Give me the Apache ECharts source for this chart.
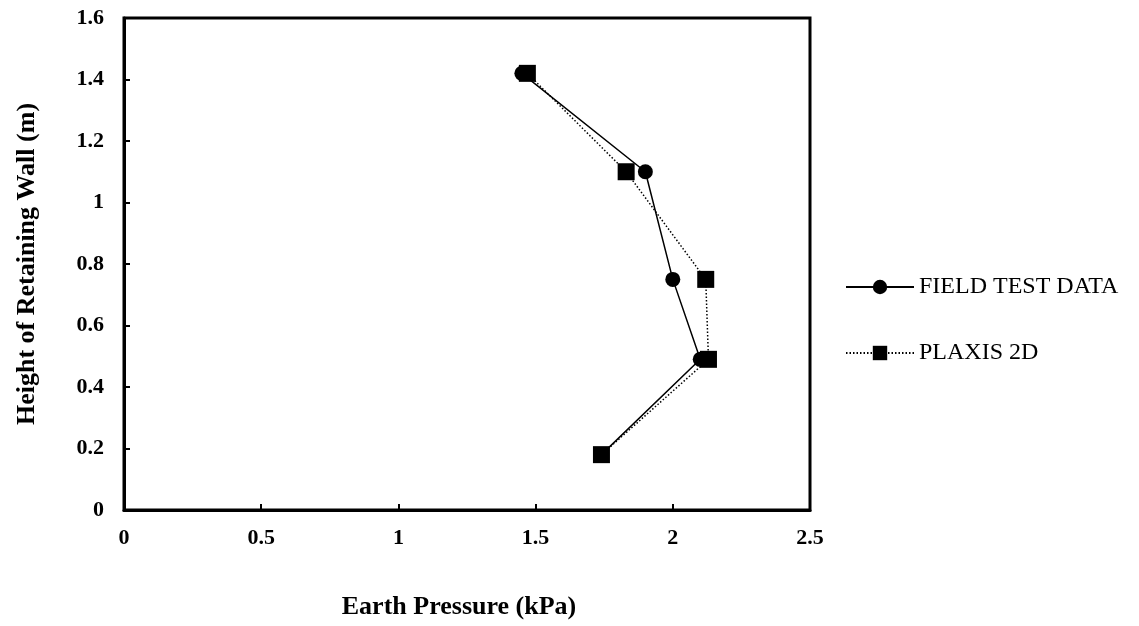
<!DOCTYPE html>
<html lang="en">

<head>
    <meta charset="UTF-8">
    <title>Earth Pressure</title>
    <script src="https://cdnjs.cloudflare.com/ajax/libs/echarts/6.0.0/echarts.min.js"></script>
    <style>
        body { margin: 0; background: #fff; }
        #main { width: 1139px; height: 626px; }
    </style>
</head>

<body>
    <div id="main"></div>

    <script>
        // height of wall (m)
        const heights = [1.42, 1.10, 0.75, 0.49, 0.18];
        // earth pressure (kPa)
        const fieldPressure = [1.45, 1.90, 2.00, 2.10, 1.74];
        const plaxisPressure = [1.47, 1.83, 2.12, 2.13, 1.74];

        const chart = echarts.init(document.getElementById('main'));
        const serif = "'Liberation Serif', 'DejaVu Serif', serif";

        function pairs(xs, ys) {
            return xs.map((x, i) => [x, ys[i]]);
        }

        const option = {
            animation: false,
            textStyle: { fontFamily: serif, color: '#000' },
            grid: { left: 124, top: 18, right: 329, bottom: 116, show: true, borderColor: '#000', borderWidth: 3 },
            legend: {
                orient: 'vertical',
                left: 840,
                top: 270,
                itemWidth: 68,
                itemHeight: 18,
                itemGap: 42,
                textStyle: { fontFamily: serif, fontSize: 24, color: '#000' },
                data: ['FIELD TEST DATA', 'PLAXIS 2D']
            },
            xAxis: {
                type: 'value',
                min: 0, max: 2.5, interval: 0.5,
                name: 'Earth Pressure (kPa)',
                nameLocation: 'middle',
                nameGap: 84,
                nameTextStyle: { fontFamily: serif, fontSize: 26, fontWeight: 'bold', color: '#000', padding: [0, 16, 0, 0] },
                axisLine: { lineStyle: { color: '#000', width: 3 } },
                axisTick: { inside: true, length: 6, lineStyle: { color: '#000', width: 2 } },
                axisLabel: {
                    margin: 17, fontFamily: serif, fontSize: 22, fontWeight: 'bold', color: '#000',
                    formatter: v => String(v)
                },
                splitLine: { show: false }
            },
            yAxis: {
                type: 'value',
                min: 0, max: 1.6, interval: 0.2,
                name: 'Height of Retaining Wall (m)',
                nameLocation: 'middle',
                nameGap: 84,
                nameTextStyle: { fontFamily: serif, fontSize: 26, fontWeight: 'bold', color: '#000' },
                axisLine: { lineStyle: { color: '#000', width: 3 } },
                axisTick: { inside: true, length: 6, lineStyle: { color: '#000', width: 2 } },
                axisLabel: {
                    margin: 20, fontFamily: serif, fontSize: 22, fontWeight: 'bold', color: '#000',
                    formatter: v => String(Math.round(v * 10) / 10)
                },
                splitLine: { show: false }
            },
            series: [
                {
                    name: 'FIELD TEST DATA',
                    type: 'line',
                    data: pairs(fieldPressure, heights),
                    symbol: 'circle',
                    symbolSize: 15,
                    itemStyle: { color: '#000' },
                    lineStyle: { color: '#000', width: 1.5, type: 'solid' }
                },
                {
                    name: 'PLAXIS 2D',
                    type: 'line',
                    data: pairs(plaxisPressure, heights),
                    symbol: 'rect',
                    symbolSize: 17,
                    itemStyle: { color: '#000' },
                    lineStyle: { color: '#000', width: 1.5, type: [1.5, 2] }
                }
            ]
        };

        chart.setOption(option);
    </script>
</body>

</html>
